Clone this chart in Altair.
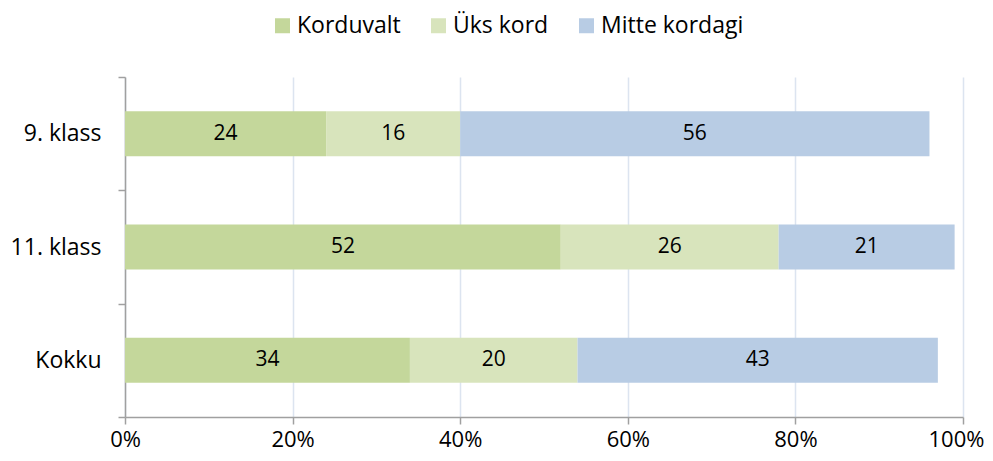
import altair as alt
import pandas as pd

classes = ["9. klass", "11. klass", "Kokku"]
series = ["Korduvalt", "Üks kord", "Mitte kordagi"]
korduvalt = [24, 52, 34]
uks_kord = [16, 26, 20]
mitte = [56, 21, 43]
colors = ["#c4d79b", "#d8e4bc", "#b8cce4"]

rows = []
for i, c in enumerate(classes):
    for j, (s, vals) in enumerate(zip(series, [korduvalt, uks_kord, mitte])):
        rows.append({"cls": c, "series": s, "ord": j, "value": vals[i]})
df = pd.DataFrame(rows)

FONT = "Open Sans"

base = alt.Chart(df).transform_stack(
    stack="value", as_=["v0", "v1"], groupby=["cls"], sort=[alt.SortField("ord")]
).transform_calculate(mid="(datum.v0 + datum.v1) / 2")

y_enc = alt.Y(
    "cls:N",
    sort=classes,
    title=None,
    scale=alt.Scale(paddingInner=0, paddingOuter=0),
    axis=alt.Axis(
        tickBand="extent",
        domainColor="#a0a0a0",
        domainWidth=1.5,
        tickColor="#a0a0a0",
        tickWidth=1.5,
        tickSize=7,
        labelPadding=17,
        labelFontSize=23,
        labelFont=FONT,
        labelColor="#000000",
        grid=False,
    ),
)

bars = base.mark_bar(size=45).encode(
    x=alt.X(
        "v0:Q",
        scale=alt.Scale(domain=[0, 100], nice=False),
        title=None,
        axis=alt.Axis(
            values=[0, 20, 40, 60, 80, 100],
            labelExpr="datum.value + '%'",
            labelFlush=False,
            labelOffset={"condition": {"test": "datum.value == 100", "value": -7}, "value": 0},
            domainColor="#a0a0a0",
            domainWidth=1.5,
            tickColor="#a0a0a0",
            tickWidth=1.5,
            tickSize=7,
            labelPadding=5,
            labelFontSize=22,
            labelFont=FONT,
            labelColor="#000000",
            gridColor="#dce4f0",
            gridWidth=1.5,
        ),
    ),
    x2="v1:Q",
    y=y_enc,
    color=alt.Color(
        "series:N",
        scale=alt.Scale(domain=series, range=colors),
        legend=alt.Legend(
            title=None,
            orient="none",
            direction="horizontal",
            legendX=146,
            legendY=-63,
            symbolType="square",
            symbolSize=225,
            symbolStrokeWidth=0,
            labelFontSize=23,
            labelFont=FONT,
            labelColor="#000000",
            labelOffset=3,
            columnPadding=26,
        ),
    ),
    order=alt.Order("ord:Q"),
)

labels = base.mark_text(fontSize=21, font=FONT, color="#000000").encode(
    x=alt.X("mid:Q"),
    y=alt.Y("cls:N", sort=classes),
    text=alt.Text("value:Q"),
)

chart = (
    alt.layer(bars, labels)
    .properties(
        width=838,
        height=340,
        autosize=alt.AutoSizeParams(type="none"),
        padding={"left": 117, "top": 69, "right": 22, "bottom": 36},
    )
    .configure_view(stroke=None)
)

chart.save("out.html", embed_options={"renderer": "svg", "actions": False})
